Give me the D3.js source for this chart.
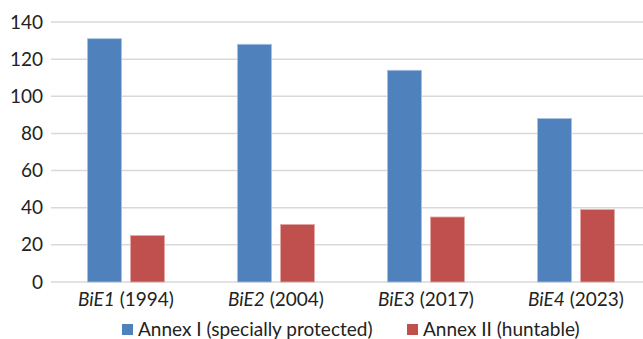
<!DOCTYPE html>
<html><head><meta charset="utf-8">
<script src="https://cdn.jsdelivr.net/npm/d3@7"></script>
<style>body{margin:0;background:#fff}svg{display:block;font-family:Lato,"Open Sans",sans-serif}</style>
</head><body>
<script>
const surveys = ["BiE1", "BiE2", "BiE3", "BiE4"];
const years = ["1994", "2004", "2017", "2023"];
const annexI = [131, 128, 114, 88];
const annexII = [25, 31, 35, 39];
const yTicks = [0, 20, 40, 60, 80, 100, 120, 140];
const seriesNames = ["Annex I (specially protected)", "Annex II (huntable)"];
const colors = ["#4F81BD", "#C0504D"];

const W = 643, H = 339;
const FS = 19;
const svg = d3.select("body").append("svg").attr("width", W).attr("height", H);

const x = d3.scaleBand().domain(surveys).range([51, 651]).paddingInner(0).paddingOuter(0);
const y = d3.scaleLinear().domain([0, 140]).range([282, 22]);
const groupW = 77;
const sub = d3.scaleBand().domain([0, 1]).range([0, groupW]).paddingInner(9 / 43);
const groupOffset = (x.bandwidth() - groupW) / 2;

// gridlines
svg.append("g").selectAll("line").data(yTicks).join("line")
  .attr("x1", 51).attr("x2", W)
  .attr("y1", d => y(d)).attr("y2", d => y(d))
  .attr("stroke", "#D9D9D9").attr("stroke-width", 1.5);

// y axis labels
const yAxis = d3.axisLeft(y).tickValues(yTicks).tickSize(0).tickPadding(8);
const ya = svg.append("g").attr("transform", "translate(51,0)").call(yAxis);
ya.select(".domain").remove();
ya.selectAll("text").attr("font-size", FS).attr("fill", "#222").attr("font-family", "Lato,'Open Sans',sans-serif");

// bars
const series = [annexI, annexII];
series.forEach((vals, si) => {
  svg.append("g").selectAll("rect").data(vals).join("rect")
    .attr("x", (d, i) => x(surveys[i]) + groupOffset + sub(si))
    .attr("width", sub.bandwidth())
    .attr("y", d => y(d))
    .attr("height", d => y(0) - y(d))
    .attr("fill", colors[si])
    .attr("stroke", si === 0 ? "#A9C1E0" : "#E3A8A6")
    .attr("stroke-width", 0.8);
});

// category labels
const cat = svg.append("g").selectAll("text").data(surveys).join("text")
  .attr("x", d => x(d) + x.bandwidth() / 2)
  .attr("y", 306)
  .attr("text-anchor", "middle")
  .attr("font-size", FS).attr("fill", "#222");
cat.append("tspan").attr("font-style", "italic").text(d => d);
cat.append("tspan").text((d, i) => " (" + years[i] + ")");

// legend
const legendX = [122, 407];
seriesNames.forEach((n, i) => {
  const g = svg.append("g").attr("transform", `translate(${legendX[i]},0)`);
  g.append("rect").attr("x", 0).attr("y", 324).attr("width", 11).attr("height", 11).attr("fill", colors[i]);
  g.append("text").attr("x", 16).attr("y", 336).attr("font-size", FS).attr("fill", "#222").text(n);
});
</script>
</body></html>
